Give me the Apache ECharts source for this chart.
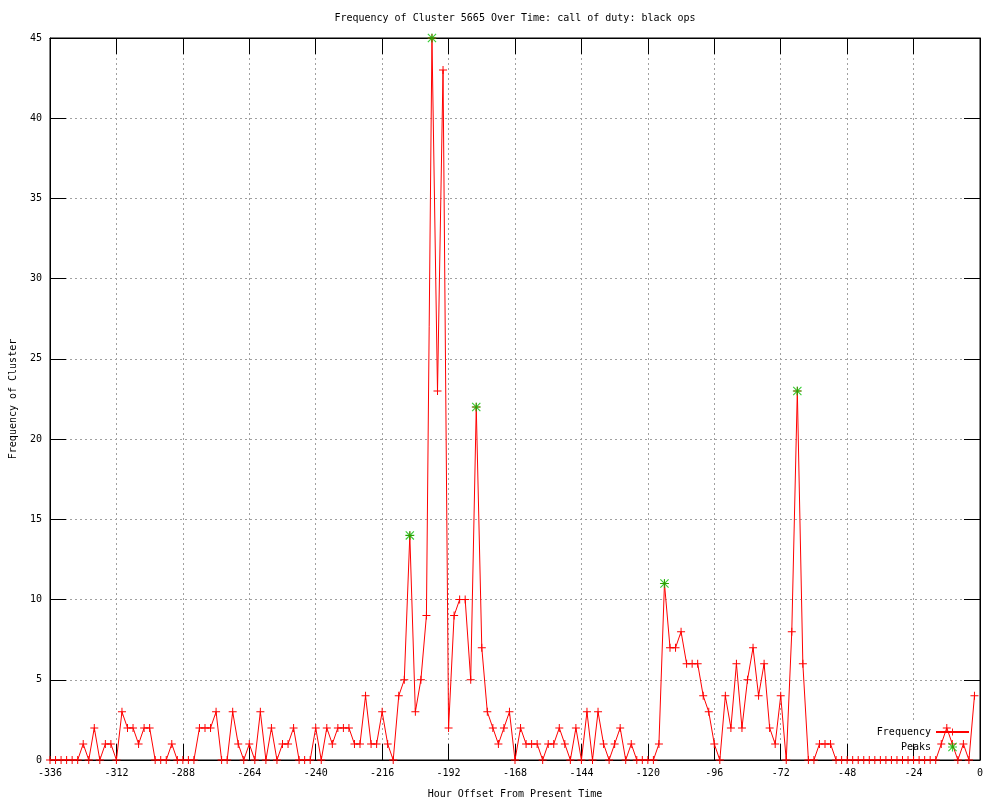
<!DOCTYPE html>
<html>
<head>
<meta charset="utf-8">
<script src="https://cdn.jsdelivr.net/npm/echarts@6/dist/echarts.min.js"></script>
<style>
html,body{margin:0;padding:0;background:#fff;}
#chart{width:1000px;height:800px;}
</style>
</head>
<body>
<div id="chart"></div>
<script>
const titleText = 'Frequency of Cluster 5665 Over Time: call of duty: black ops';
const xAxisName = 'Hour Offset From Present Time';
const yAxisName = 'Frequency of Cluster';

const hours = [
-336,-334,-332,-330,-328,-326,-324,-322,-320,-318,-316,-314,
-312,-310,-308,-306,-304,-302,-300,-298,-296,-294,-292,-290,
-288,-286,-284,-282,-280,-278,-276,-274,-272,-270,-268,-266,
-264,-262,-260,-258,-256,-254,-252,-250,-248,-246,-244,-242,
-240,-238,-236,-234,-232,-230,-228,-226,-224,-222,-220,-218,
-216,-214,-212,-210,-208,-206,-204,-202,-200,-198,-196,-194,
-192,-190,-188,-186,-184,-182,-180,-178,-176,-174,-172,-170,
-168,-166,-164,-162,-160,-158,-156,-154,-152,-150,-148,-146,
-144,-142,-140,-138,-136,-134,-132,-130,-128,-126,-124,-122,
-120,-118,-116,-114,-112,-110,-108,-106,-104,-102,-100,-98,
-96,-94,-92,-90,-88,-86,-84,-82,-80,-78,-76,-74,
-72,-70,-68,-66,-64,-62,-60,-58,-56,-54,-52,-50,
-48,-46,-44,-42,-40,-38,-36,-34,-32,-30,-28,-26,
-24,-22,-20,-18,-16,-14,-12,-10,-8,-6,-4,-2
];

const frequency = [
0,0,0,0,0,0,1,0,2,0,1,1,
0,3,2,2,1,2,2,0,0,0,1,0,
0,0,0,2,2,2,3,0,0,3,1,0,
1,0,3,0,2,0,1,1,2,0,0,0,
2,0,2,1,2,2,2,1,1,4,1,1,
3,1,0,4,5,14,3,5,9,45,23,43,
2,9,10,10,5,22,7,3,2,1,2,3,
0,2,1,1,1,0,1,1,2,1,0,2,
0,3,0,3,1,0,1,2,0,1,0,0,
0,0,1,11,7,7,8,6,6,6,4,3,
1,0,4,2,6,2,5,7,4,6,2,1,
4,0,8,23,6,0,0,1,1,1,0,0,
0,0,0,0,0,0,0,0,0,0,0,0,
0,0,0,0,0,1,2,1,0,1,0,4
];

const peakHours = [-206, -198, -182, -114, -66];
const peakValues = [14, 45, 22, 11, 23];

const xTicks = {min: -336, max: 0, interval: 24};
const yTicks = {min: 0, max: 45, interval: 5};

const FONT = 'DejaVu Sans Mono';
const plusPath = 'path://M0,3.5h8v1h-8z M3.5,0h1v8h-1z';
const starPath = 'path://M0,3.5h8v1h-8z M3.5,0h1v8h-1z M0.7,0L8,7.3L7.3,8L0,0.7z M7.3,0L8,0.7L0.7,8L0,7.3z';

const chart = echarts.init(document.getElementById('chart'), null, {renderer: 'canvas'});

const tickStyle = {inside: true, length: 16, lineStyle: {color: '#000', width: 1}};
const gridLine = {show: true, lineStyle: {color: '#a0a0a0', width: 1, type: [2, 3]}};

const option = {
  animation: false,
  backgroundColor: '#fff',
  textStyle: {fontFamily: FONT, fontSize: 10, color: '#000'},
  grid: {left: 50, right: 20, top: 38, bottom: 40, show: true, borderColor: '#000', borderWidth: 1,
         containLabel: false, outerBoundsMode: 'none'},
  xAxis: [
    {
      type: 'value', position: 'bottom', min: xTicks.min, max: xTicks.max, interval: xTicks.interval,
      axisLine: {show: true, onZero: false, lineStyle: {color: '#000'}},
      axisTick: tickStyle,
      axisLabel: {margin: 8, color: '#000', fontFamily: FONT, fontSize: 10},
      splitLine: gridLine,
      name: xAxisName, nameLocation: 'middle', nameGap: 29,
      nameTextStyle: {fontFamily: FONT, fontSize: 10, color: '#000'}
    },
    {
      type: 'value', position: 'top', min: xTicks.min, max: xTicks.max, interval: xTicks.interval,
      axisLine: {show: true, onZero: false, lineStyle: {color: '#000'}},
      axisTick: tickStyle, axisLabel: {show: false}, splitLine: {show: false}
    }
  ],
  yAxis: [
    {
      type: 'value', position: 'left', min: yTicks.min, max: yTicks.max, interval: yTicks.interval,
      axisLine: {show: true, onZero: false, lineStyle: {color: '#000'}},
      axisTick: tickStyle,
      axisLabel: {margin: 8, color: '#000', fontFamily: FONT, fontSize: 10},
      splitLine: gridLine,
      name: yAxisName, nameLocation: 'middle', nameGap: 32, nameRotate: 90,
      nameTextStyle: {fontFamily: FONT, fontSize: 10, color: '#000'}
    },
    {
      type: 'value', position: 'right', min: yTicks.min, max: yTicks.max, interval: yTicks.interval,
      axisLine: {show: true, onZero: false, lineStyle: {color: '#000'}},
      axisTick: tickStyle, axisLabel: {show: false}, splitLine: {show: false}
    }
  ],
  legend: {
    data: ['Frequency', 'Peaks'],
    orient: 'vertical', right: 30, top: 727, align: 'right',
    itemWidth: 33, itemHeight: 9, itemGap: 5, padding: 0,
    selectedMode: false,
    textStyle: {fontFamily: FONT, fontSize: 10, color: '#000'}
  },
  graphic: [
    {
      type: 'rect', silent: true, z: 1,
      shape: {x: 868, y: 722, width: 110, height: 20},
      style: {fill: '#fff'}
    },
    {
      type: 'text', silent: true, z: 10, x: 515, y: 18,
      style: {text: titleText, font: '10px "DejaVu Sans Mono"', fill: '#000', align: 'center', verticalAlign: 'middle'}
    }
  ],
  series: [
    {
      name: 'Frequency', type: 'line', xAxisIndex: 0, yAxisIndex: 0, z: 2,
      data: hours.map((h, i) => [h, frequency[i]]),
      symbol: plusPath, symbolSize: 8, showSymbol: true, showAllSymbol: true,
      lineStyle: {color: '#ff0000', width: 1},
      itemStyle: {color: '#ff0000'},
      emphasis: {disabled: true}
    },
    {
      name: 'Peaks', type: 'scatter', xAxisIndex: 0, yAxisIndex: 0, z: 3,
      data: peakHours.map((h, i) => [h, peakValues[i]]),
      symbol: starPath, symbolSize: 9,
      itemStyle: {color: '#00c000'},
      emphasis: {disabled: true}
    }
  ]
};
chart.setOption(option);
</script>
</body>
</html>
